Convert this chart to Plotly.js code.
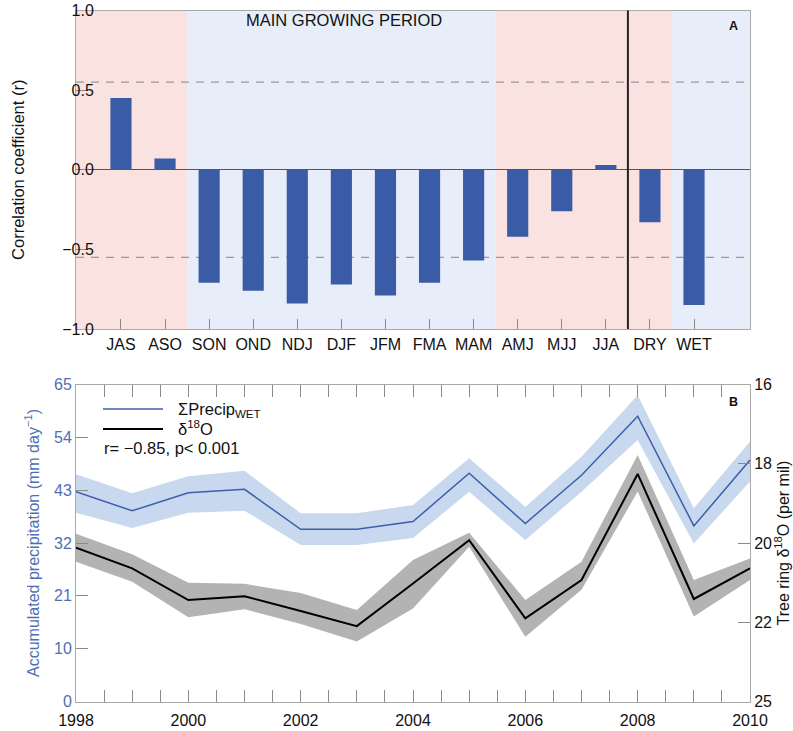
<!DOCTYPE html>
<html>
<head>
<meta charset="utf-8">
<script src="https://cdn.plot.ly/plotly-3.0.1.min.js"></script>
<style>html,body{margin:0;padding:0;background:#fff;}#chart{width:793px;height:731px;}</style>
</head>
<body>
<div id="chart"></div>
<script>
// ---------- Panel A data ----------
const seasons = ['JAS','ASO','SON','OND','NDJ','DJF','JFM','FMA','MAM','AMJ','MJJ','JJA','DRY','WET'];
const corr = [0.45, 0.07, -0.71, -0.76, -0.84, -0.72, -0.79, -0.71, -0.57, -0.42, -0.26, 0.03, -0.33, -0.85];
const significance = 0.55;
const corrTickVals = [-1, -0.5, 0, 0.5, 1];
const corrTickText = ['\u22121.0', '\u22120.5', '0.0', '0.5', '1.0'];
// shaded season groups (category index boundaries)
const shadeStarts = [-1.02, 1.5, 8.5, 12.5];
const shadeEnds = [1.5, 8.5, 12.5, 14.27];
const shadeKinds = ['dry', 'wet', 'dry', 'wet'];
const separatorAt = 11.5;

// ---------- Panel B data ----------
const years = [1998,1999,2000,2001,2002,2003,2004,2005,2006,2007,2008,2009,2010];
const precip = [43.0, 39.1, 42.8, 43.5, 35.3, 35.3, 36.9, 46.8, 36.5, 46.4, 58.5, 36.0, 49.5];
const precipHi = [46.6, 42.7, 46.2, 47.3, 38.6, 38.6, 40.3, 49.9, 39.9, 50.2, 62.8, 39.6, 53.3];
const precipLo = [38.7, 35.6, 38.7, 39.1, 32.1, 32.1, 33.5, 43.0, 33.1, 43.0, 53.6, 32.4, 45.1];
const d18O = [20.63, 21.22, 22.12, 22.01, 22.43, 22.86, 21.65, 20.42, 22.64, 21.55, 18.54, 22.09, 21.22];
const d18OLo = [20.24, 20.82, 21.63, 21.66, 21.92, 22.40, 20.98, 20.21, 22.12, 21.03, 18.00, 21.55, 20.94];
const d18OHi = [21.03, 21.60, 22.61, 22.38, 22.80, 23.30, 22.36, 20.61, 23.16, 21.83, 19.04, 22.59, 21.55];
const precipTickVals = [0, 65/6, 2*65/6, 3*65/6, 4*65/6, 5*65/6, 65];
const precipTickText = ['0', '10', '21', '32', '43', '54', '65'];
const d18OTickVals = [16, 18.25, 20.5, 22.75, 25];
const d18OTickText = ['16', '18', '20', '22', '25'];

// ---------- styling ----------
const W = 793, H = 731;
const px = v => v / W;
const py = v => 1 - v / H;
const FONT = 'Liberation Sans, Arial, Helvetica, sans-serif';
const barBlue = '#3a5ca7';
const lineBlue = '#3d5fab';
const bandBlue = '#c8d8ee';
const bandGrey = '#b3b3b3';
const axisBlue = '#4f6fb4';
const frame = '#a8a8a8';
const tickCol = '#8a8a8a';
const shadeColor = {dry: '#f9e2df', wet: '#e7eef9'};

const traces = [
  {type: 'bar', x: seasons, y: corr, width: 0.48, marker: {color: barBlue}, xaxis: 'x', yaxis: 'y', hoverinfo: 'x+y'},
  {type: 'scatter', mode: 'lines', x: years, y: precipHi, line: {width: 0, color: bandBlue}, xaxis: 'x2', yaxis: 'y2', hoverinfo: 'skip'},
  {type: 'scatter', mode: 'lines', x: years, y: precipLo, line: {width: 0, color: bandBlue}, fill: 'tonexty', fillcolor: bandBlue, xaxis: 'x2', yaxis: 'y2', hoverinfo: 'skip'},
  {type: 'scatter', mode: 'lines', x: years, y: precip, name: '\u03A3Precip WET', line: {width: 1.5, color: lineBlue}, xaxis: 'x2', yaxis: 'y2'},
  {type: 'scatter', mode: 'lines', x: years, y: d18OLo, line: {width: 0, color: bandGrey}, xaxis: 'x2', yaxis: 'y3', hoverinfo: 'skip'},
  {type: 'scatter', mode: 'lines', x: years, y: d18OHi, line: {width: 0, color: bandGrey}, fill: 'tonexty', fillcolor: bandGrey, xaxis: 'x2', yaxis: 'y3', hoverinfo: 'skip'},
  {type: 'scatter', mode: 'lines', x: years, y: d18O, name: '\u03B418O', line: {width: 2, color: '#000'}, xaxis: 'x2', yaxis: 'y3'}
];

const shapes = [];
for (let i = 0; i < shadeStarts.length; i++) {
  shapes.push({type: 'rect', xref: 'x', yref: 'y domain', x0: shadeStarts[i], x1: shadeEnds[i], y0: 0, y1: 1,
    fillcolor: shadeColor[shadeKinds[i]], line: {width: 0}, layer: 'below'});
}
[significance, -significance].forEach(v => shapes.push({type: 'line', xref: 'x domain', yref: 'y', x0: 0, x1: 1, y0: v, y1: v,
  line: {color: '#9a9a9a', width: 1.2, dash: '8px,7px'}, layer: 'below'}));
shapes.push({type: 'line', xref: 'x', yref: 'y domain', x0: separatorAt, x1: separatorAt, y0: 0, y1: 1,
  line: {color: '#222', width: 2}, layer: 'above'});
// legend samples
shapes.push({type: 'line', xref: 'paper', yref: 'paper', x0: px(103), x1: px(163), y0: py(409), y1: py(409), line: {color: lineBlue, width: 1.5}});
shapes.push({type: 'line', xref: 'paper', yref: 'paper', x0: px(103), x1: px(163), y0: py(429), y1: py(429), line: {color: '#000', width: 2}});

const annotations = [
  {xref: 'paper', yref: 'paper', x: px(344), y: py(20), text: 'MAIN GROWING PERIOD', showarrow: false, font: {size: 16.5, color: '#111'}, xanchor: 'center', yanchor: 'middle'},
  {xref: 'paper', yref: 'paper', x: px(733), y: py(26), text: '<b>A</b>', showarrow: false, font: {size: 12.5, color: '#111'}, xanchor: 'center', yanchor: 'middle'},
  {xref: 'paper', yref: 'paper', x: px(733), y: py(402), text: '<b>B</b>', showarrow: false, font: {size: 12.5, color: '#111'}, xanchor: 'center', yanchor: 'middle'},
  {xref: 'paper', yref: 'paper', x: px(176), y: py(410), text: '\u03A3Precip<sub>WET</sub>', showarrow: false, font: {size: 16.5, color: '#111'}, xanchor: 'left', yanchor: 'middle'},
  {xref: 'paper', yref: 'paper', x: px(176), y: py(428), text: '\u03B4<sup>18</sup>O', showarrow: false, font: {size: 16.5, color: '#111'}, xanchor: 'left', yanchor: 'middle'},
  {xref: 'paper', yref: 'paper', x: px(102), y: py(448), text: 'r= \u22120.85, p< 0.001', showarrow: false, font: {size: 16.5, color: '#111'}, xanchor: 'left', yanchor: 'middle'}
];

const layout = {
  width: W, height: H,
  margin: {l: 0, r: 0, t: 0, b: 0},
  paper_bgcolor: '#ffffff', plot_bgcolor: 'rgba(0,0,0,0)',
  showlegend: false,
  font: {family: FONT, size: 16, color: '#111'},
  xaxis: {domain: [px(76), px(750)], anchor: 'y', type: 'category', range: [-1.02, 14.27],
    ticks: 'inside', ticklen: 10, tickcolor: tickCol, tickwidth: 1, showline: true, linecolor: frame, linewidth: 1, mirror: true,
    showgrid: false, zeroline: false, tickfont: {size: 16}, ticklabelstandoff: 1},
  yaxis: {domain: [py(329), py(10.5)], anchor: 'x', range: [-1, 1], tickvals: corrTickVals, ticktext: corrTickText,
    ticks: 'inside', ticklen: 12, tickcolor: tickCol, showline: true, linecolor: frame, linewidth: 1, mirror: true,
    showgrid: false, zeroline: true, zerolinecolor: '#555', zerolinewidth: 1, tickfont: {size: 16}, ticklabelstandoff: -22,
    title: {text: 'Correlation coefficient (r)', font: {size: 16.5}, standoff: 33}},
  yaxis4: {overlaying: 'y', anchor: 'x', side: 'right', range: [-1, 1], tickvals: corrTickVals,
    ticks: 'inside', ticklen: 12, tickcolor: tickCol, showticklabels: false, showline: false, showgrid: false, zeroline: false},
  xaxis2: {domain: [px(76), px(750)], anchor: 'y2', range: [1998, 2010], tick0: 1998, dtick: 2,
    ticks: 'inside', ticklen: 12, tickcolor: tickCol, minor: {dtick: 0.5, ticklen: 6, tickcolor: tickCol, ticks: 'inside'},
    showline: true, linecolor: frame, linewidth: 1, mirror: 'allticks', showgrid: false, zeroline: false,
    tickfont: {size: 16}, ticklabelstandoff: 4},
  yaxis2: {domain: [py(701.5), py(384.5)], anchor: 'x2', range: [0, 65], tickvals: precipTickVals, ticktext: precipTickText,
    ticks: 'inside', ticklen: 12, tickcolor: tickCol, showline: true, linecolor: frame, linewidth: 1,
    showgrid: false, zeroline: false, tickfont: {size: 16, color: axisBlue},
    title: {text: 'Accumulated precipitation (mm day<sup>\u22121</sup>)', font: {size: 16, color: axisBlue}, standoff: 10}},
  yaxis3: {overlaying: 'y2', anchor: 'x2', side: 'right', range: [25, 16], tickvals: d18OTickVals, ticktext: d18OTickText,
    ticks: 'inside', ticklen: 12, tickcolor: tickCol, showline: true, linecolor: frame, linewidth: 1,
    showgrid: false, zeroline: false, tickfont: {size: 16, color: '#111'},
    title: {text: 'Tree ring \u03B4<sup>18</sup>O (per mil)', font: {size: 16, color: '#111'}, standoff: 2}},
  shapes: shapes,
  annotations: annotations
};

Plotly.newPlot('chart', traces, layout, {displayModeBar: false, staticPlot: true});
</script>
</body>
</html>
